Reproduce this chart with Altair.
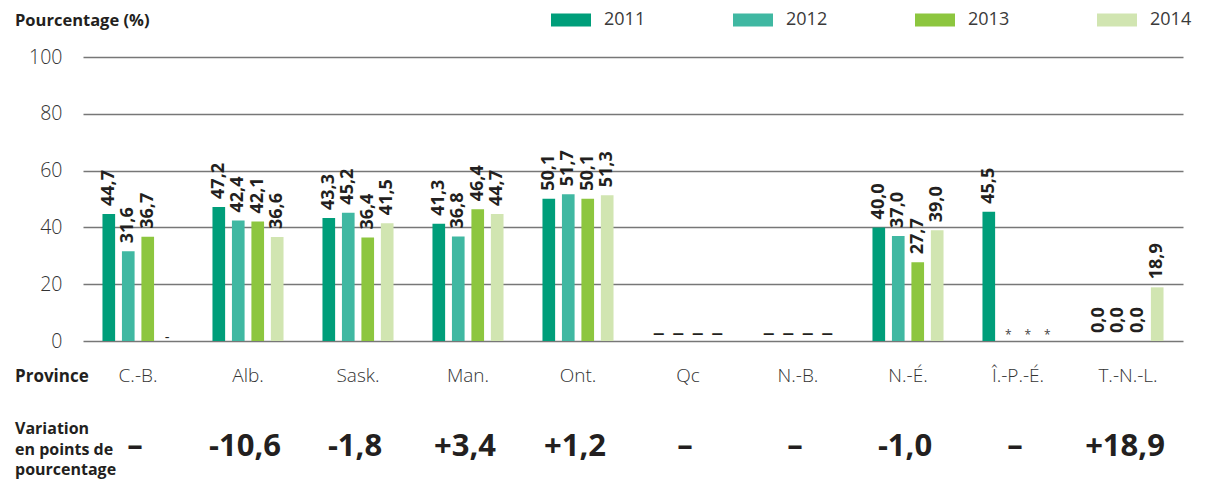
import altair as alt
import pandas as pd

provinces = ["C.-B.", "Alb.", "Sask.", "Man.", "Ont.", "Qc", "N.-B.", "N.-É.", "Î.-P.-É.", "T.-N.-L."]
years = ["2011", "2012", "2013", "2014"]
v2011 = [44.7, 47.2, 43.3, 41.3, 50.1, None, None, 40.0, 45.5, 0.0]
v2012 = [31.6, 42.4, 45.2, 36.8, 51.7, None, None, 37.0, None, 0.0]
v2013 = [36.7, 42.1, 36.4, 46.4, 50.1, None, None, 27.7, None, 0.0]
v2014 = [None, 36.6, 41.5, 44.7, 51.3, None, None, 39.0, None, 18.9]
# markers shown where no value is reported
m2011 = ["", "", "", "", "", "–", "–", "", "", ""]
m2012 = ["", "", "", "", "", "–", "–", "", "*", ""]
m2013 = ["", "", "", "", "", "–", "–", "", "*", ""]
m2014 = ["-", "", "", "", "", "–", "–", "", "*", ""]
variation = ["–", "-10,6", "-1,8", "+3,4", "+1,2", "–", "–", "-1,0", "–", "+18,9"]
colors = ["#009E7A", "#40B8A2", "#8DC63F", "#D1E5B1"]

rows = []
for yr, vals, marks in zip(years, [v2011, v2012, v2013, v2014], [m2011, m2012, m2013, m2014]):
    for p, v, m in zip(provinces, vals, marks):
        rows.append({
            "Province": p,
            "Year": yr,
            "value": v,
            "label": ("" if v is None else f"{v:.1f}".replace(".", ",")),
            "marker": m,
        })
df = pd.DataFrame(rows)
var_df = pd.DataFrame({"Province": provinces, "variation": variation})
one = pd.DataFrame({"k": [0]})

W, H = 1100, 284
BOLD = "Open Sans"
LIGHT = "Open Sans"

x_enc = alt.X("Province:N", sort=provinces,
              scale=alt.Scale(domain=provinces, paddingInner=0, paddingOuter=0),
              axis=alt.Axis(title=None, labelAngle=0, domain=False, ticks=False,
                            labelPadding=25, labelFontSize=19, labelFont=LIGHT,
                            labelFontWeight=300, labelColor="#333333"))
xo_enc = alt.XOffset("Year:N", sort=years,
                     scale=alt.Scale(domain=years, paddingInner=0.35, paddingOuter=1.0))
y_scale = alt.Scale(domain=[0, 100], nice=False)

bars = alt.Chart(df).mark_bar().encode(
    x=x_enc,
    xOffset=xo_enc,
    y=alt.Y("value:Q", scale=y_scale,
            axis=alt.Axis(title=None, values=[0, 20, 40, 60, 80, 100], domain=False,
                          ticks=False, labelPadding=21, labelFontSize=19.5,
                          labelFont=LIGHT, labelFontWeight=300, labelColor="#333333",
                          gridColor="#777777", gridWidth=1.5)),
    color=alt.Color("Year:N", sort=years,
                    scale=alt.Scale(domain=years, range=colors),
                    legend=alt.Legend(title=None, orient="none", direction="horizontal",
                                      legendX=468, legendY=-57,
                                      symbolType="M-1,-0.325L1,-0.325L1,0.325L-1,0.325Z",
                                      symbolSize=1600, symbolStrokeWidth=0,
                                      symbolOpacity=1,
                                      labelFontSize=18, labelFont=LIGHT,
                                      labelColor="#3a3a3a", labelLimit=300,
                                      labelOffset=13, columnPadding=87)),
).transform_filter("isValid(datum.value)")

labels = alt.Chart(df).mark_text(
    angle=270, align="left", baseline="middle", dx=8,
    font=BOLD, fontWeight="bold", fontSize=18, color="#231F20"
).encode(
    x=alt.X("Province:N", sort=provinces),
    xOffset=alt.XOffset("Year:N", sort=years),
    y=alt.Y("value:Q"),
    text="label:N",
).transform_filter("isValid(datum.value)")

dashes = alt.Chart(df).mark_text(
    baseline="middle", dy=-7, font=BOLD, fontSize=24, color="#231F20"
).encode(
    x=alt.X("Province:N", sort=provinces),
    xOffset=alt.XOffset("Year:N", sort=years),
    y=alt.datum(0),
    text="marker:N",
).transform_filter("datum.marker == '–'")

hyph = alt.Chart(df).mark_text(
    baseline="middle", dy=-4, font=BOLD, fontSize=15, color="#231F20"
).encode(
    x=alt.X("Province:N", sort=provinces),
    xOffset=alt.XOffset("Year:N", sort=years),
    y=alt.datum(0),
    text="marker:N",
).transform_filter("datum.marker == '-'")

stars = alt.Chart(df).mark_text(
    baseline="middle", dy=-6, font=BOLD, fontSize=12, color="#444444"
).encode(
    x=alt.X("Province:N", sort=provinces),
    xOffset=alt.XOffset("Year:N", sort=years),
    y=alt.datum(0),
    text="marker:N",
).transform_filter("datum.marker == '*'")

var_text = alt.Chart(var_df).mark_text(
    baseline="middle", font=BOLD, fontWeight="bold", fontSize=31, color="#231F20", dx=-3
).encode(
    x=alt.X("Province:N", sort=provinces),
    y=alt.value(H + 106),
    text="variation:N",
)

title = alt.Chart(one).mark_text(
    align="left", baseline="middle", font=BOLD, fontWeight="bold", fontSize=16.5,
    color="#231F20", text="Pourcentage (%)"
).encode(x=alt.value(-68), y=alt.value(-36))

prov_lbl = alt.Chart(one).mark_text(
    align="left", baseline="middle", font=BOLD, fontWeight="bold", fontSize=17,
    color="#231F20", text="Province"
).encode(x=alt.value(-68), y=alt.value(H + 36))

var_lbl = alt.Chart(one).mark_text(
    align="left", baseline="middle", font=BOLD, fontWeight="bold", fontSize=16,
    color="#231F20", text="Variation\nen points de\npourcentage", lineBreak="\n",
    lineHeight=20.5
).encode(x=alt.value(-68), y=alt.value(H + 88))

chart = alt.layer(bars, labels, dashes, hyph, stars, var_text, title, prov_lbl, var_lbl).properties(
    width=W, height=H,
    autosize=alt.AutoSizeParams(type="none"),
    padding={"left": 75, "top": 49, "right": 10, "bottom": 140},
).configure_view(stroke=None).configure_axis(labelLimit=200)

chart.save("out.html", embed_options={"renderer": "svg", "actions": False})
